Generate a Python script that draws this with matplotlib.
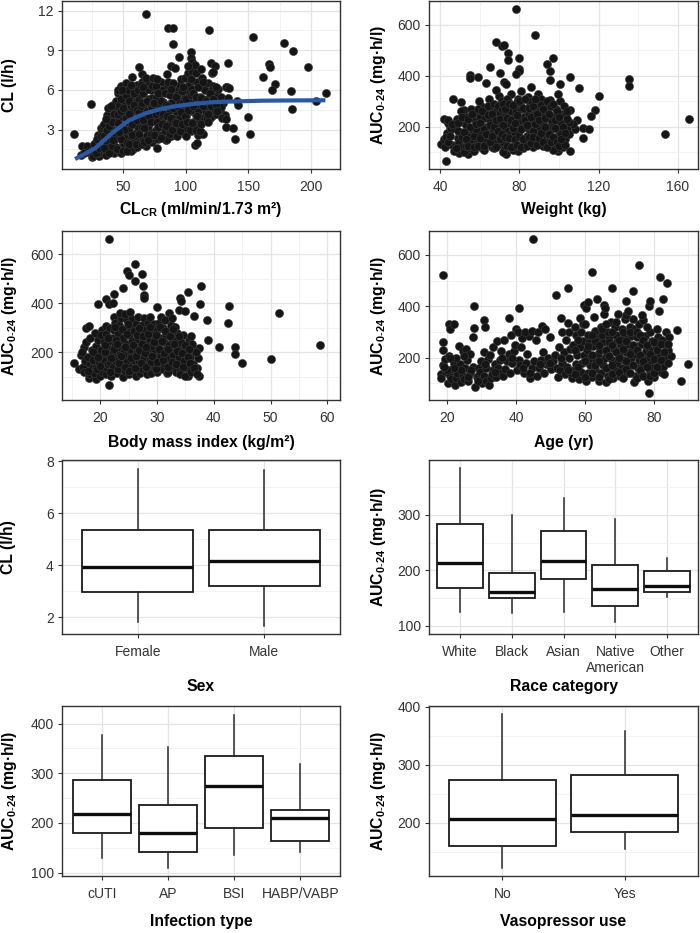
import matplotlib
matplotlib.use("Agg")
import matplotlib.pyplot as plt
import matplotlib.ticker as ticker
import numpy as np

plt.rcParams.update({
    "font.family": ["Liberation Sans", "DejaVu Sans"],
    "mathtext.fontset": "custom",
    "mathtext.rm": "Liberation Sans",
    "mathtext.bf": "Liberation Sans:bold",
    "mathtext.default": "regular",
    "font.size": 10,
    "axes.edgecolor": "#333333",
    "axes.linewidth": 1.0,
    "xtick.color": "#333333",
    "ytick.color": "#333333",
    "xtick.labelcolor": "#333333",
    "ytick.labelcolor": "#333333",
    "xtick.labelsize": 10,
    "ytick.labelsize": 10,
    "xtick.major.size": 3,
    "ytick.major.size": 3,
    "xtick.major.width": 0.8,
    "ytick.major.width": 0.8,
    "xtick.minor.size": 0,
    "ytick.minor.size": 0,
    "xtick.major.pad": 5,
    "ytick.major.pad": 3,
})

# ──────────────────────────────────────────────────────────────
# Data
# ──────────────────────────────────────────────────────────────

# CL vs CLcr, points (x = CLcr, y = CL)
cl_pts = [
    (10.8, 2.65), (24.7, 4.91), (16, 1.05), (17, 1.8), (21, 1.75), (22, 1.3), (25, 0.95), (19, 1.2),
    (26, 1.0), (27, 1.4), (28, 2.1), (29, 1.7), (30, 2.6), (31, 1.0), (32, 3.1), (33, 2.2), (34, 1.5),
    (30, 1.25), (33, 2.8), (27, 1.9), (29, 2.3), (34, 3.3),
    (35, 3.4), (36, 1.1), (37, 2.0), (38, 2.6), (39, 3.9), (40, 1.3), (41, 4.4), (42, 3.0), (43, 2.2),
    (44, 1.7), (36, 2.9), (38, 1.6), (40, 3.5), (42, 4.9), (44, 3.8), (37, 4.1), (43, 1.2), (39, 2.3),
    (41, 2.7), (44, 5.2),
    (45, 4.6), (46, 2.5), (47, 1.4), (48, 3.3), (49, 5.4), (50, 2.0), (51, 4.1), (52, 1.6), (53, 3.6),
    (54, 5.0), (45, 3.0), (47, 3.9), (49, 2.7), (51, 1.9), (53, 4.5), (46, 5.8), (48, 1.2), (50, 3.1),
    (52, 2.4), (54, 4.0), (50, 5.6), (48, 6.3), (52, 6.5), (46, 6.0), (54, 2.9), (47, 4.9), (51, 5.2),
    (55, 6.1), (56, 2.3), (57, 4.3), (58, 1.5), (59, 3.4), (60, 5.1), (61, 2.8), (62, 4.7), (63, 1.9),
    (64, 3.9), (55, 3.0), (57, 5.6), (59, 2.0), (61, 6.4), (63, 5.3), (56, 4.8), (58, 3.8), (60, 2.5),
    (62, 3.2), (64, 2.2), (60, 6.0), (58, 4.5), (64, 5.7), (57, 7.0), (56, 1.4),
    (65, 6.6), (66, 2.4), (67, 4.4), (68, 1.8), (69, 3.6), (70, 5.3), (71, 2.9), (72, 4.8), (73, 2.1),
    (74, 3.9), (65, 3.2), (67, 5.9), (69, 2.6), (71, 6.4), (73, 5.4), (66, 4.9), (68, 4.1), (70, 3.3),
    (72, 6.0), (74, 2.4), (68, 6.6), (65, 7.2), (68, 6.9), (74, 6.9),
    (75, 6.2), (76, 3.0), (77, 4.6), (78, 2.3), (79, 5.6), (80, 3.7), (81, 2.6), (82, 5.1), (83, 4.2),
    (84, 6.4), (75, 4.0), (77.4, 1.64), (79, 3.3), (81, 6.0), (83, 2.9), (76, 5.4), (78, 4.9), (80, 6.6),
    (82, 3.5), (84, 2.2),
    (85, 5.8), (86, 3.1), (87, 4.5), (88, 2.5), (89, 6.3), (90, 3.8), (91, 5.2), (92, 2.8), (93, 4.1),
    (94, 6.0), (85, 2.3), (87, 3.5), (89, 4.8), (91, 2.6), (93, 5.6), (86, 6.6), (88, 5.0), (90, 3.0),
    (92, 4.4), (94, 3.3), (85, 7.2),
    (95, 6.4), (96, 3.3), (97, 4.7), (98, 2.9), (99, 5.5), (100, 4.0), (101, 6.0), (102, 3.5), (103, 5.1),
    (104, 4.4), (95, 3.9), (97, 5.9), (99, 2.7), (101, 4.9), (103, 6.6), (96, 5.2), (98, 4.3), (100, 3.1),
    (102, 6.3), (104, 2.9), (96, 6.8), (99, 6.9), (102, 7.3),
    (105, 6.1), (106, 3.6), (107, 5.0), (108, 4.1), (109, 6.6), (110, 3.3), (111, 5.5), (112, 4.6),
    (113, 6.2), (114, 3.9), (105, 4.5), (107, 3.2), (109, 4.9), (111, 3.7), (113, 5.0), (107.5, 1.84),
    (109, 1.97), (112, 2.85), (110, 2.6), (114, 2.7), (105, 7.4), (108, 7.3), (113, 6.9),
    (115, 6.0), (116, 4.3), (117, 5.3), (118, 6.5), (119, 4.6), (120, 5.7), (121, 4.0), (122, 6.3),
    (123, 5.0), (124, 4.2), (125, 5.6), (117, 4.8), (119, 3.9), (121, 6.0), (123, 4.5), (121, 7.3),
    (126, 6.1), (127, 4.4), (128, 5.5), (130, 5.0), (131, 4.1), (133, 6.2), (134, 5.4), (129, 3.9), (128, 4.7),
    # denser core
    (28, 1.2), (31, 1.6), (32, 2.5), (35, 1.6), (35, 2.5), (37, 3.0), (39, 1.2), (39, 3.3), (41, 1.8),
    (41, 3.6), (43, 2.7), (43, 4.2), (36, 3.8), (38, 4.6), (42, 2.2), (40, 4.8),
    (45, 1.5), (46, 3.5), (46, 4.2), (48, 2.3), (48, 4.4), (48, 5.3), (50, 1.4), (50, 4.6), (51, 3.0),
    (52, 3.9), (52, 5.6), (53, 2.0), (54, 6.0), (49, 6.0), (47, 2.8), (53, 1.4),
    (55, 1.9), (55, 4.2), (55, 5.2), (57, 2.6), (57, 3.4), (59, 4.9), (59, 5.8), (61, 1.7), (61, 3.7),
    (61, 4.5), (63, 2.7), (63, 4.3), (62, 6.0), (64, 4.8), (64, 6.4), (60, 1.9), (56, 6.4),
    (65, 1.9), (65, 5.0), (66, 3.7), (66, 5.8), (67, 2.1), (67, 3.1), (69, 4.4), (69, 5.2), (70, 6.1),
    (71, 4.0), (72, 2.6), (72, 3.6), (73, 4.6), (73, 6.3), (74, 5.0), (70, 2.2), (66, 6.2),
    (75, 2.6), (75, 5.0), (76, 4.2), (76, 6.3), (77, 3.6), (78, 3.2), (78, 5.8), (79, 4.3), (80, 2.4),
    (80, 5.2), (81, 3.4), (82, 4.2), (83, 5.8), (84, 3.3), (84, 4.9), (77, 6.8),
    (85, 4.0), (86, 4.8), (87, 2.7), (87, 5.6), (88, 3.9), (89, 3.0), (90, 4.6), (90, 6.5), (91, 3.6),
    (92, 5.5), (92, 3.5), (93, 2.5), (94, 4.8), (88, 6.1),
    (95, 2.9), (95, 5.0), (96, 4.3), (97, 3.4), (98, 5.0), (98, 6.2), (99, 4.0), (100, 5.3), (100, 2.5),
    (101, 3.6), (102, 4.5), (103, 3.0), (104, 5.6), (104, 6.8),
    (105, 3.5), (106, 4.8), (106, 5.8), (108, 3.0), (108, 5.5), (110, 4.3), (110, 6.2), (111, 2.9),
    (112, 3.4), (112, 5.4), (114, 4.8), (114, 6.6), (109, 4.0),
    (116, 5.2), (117, 3.8), (118, 4.2), (119, 5.8), (120, 4.8), (122, 5.3), (124, 6.2), (124, 4.9),
    (125, 4.4), (118, 3.6),
    # outliers
    (68.1, 11.74), (85.7, 10.71), (89.7, 10.71), (90, 9.47), (118.5, 10.56), (154, 10.03), (178.7, 9.52),
    (185.3, 8.97), (197.3, 7.76), (166, 7.96), (167.5, 7.71), (161.6, 6.98), (171, 6.45), (169, 6.02),
    (184.3, 5.95), (184.6, 4.56), (212.2, 5.75), (204, 5.19), (62.5, 7.76), (104.3, 8.89), (120, 8.06),
    (123.3, 7.81), (122, 7.33), (134, 8.01), (132, 6.2), (134.7, 6.17), (140.8, 5.17), (142, 4.9),
    (132, 3.8), (131.8, 3.2), (137.6, 3.1), (139.2, 2.27), (149.6, 3.96), (150.9, 2.65), (94.8, 8.47),
    (104, 8.44), (104.8, 8.14), (107.5, 7.89), (101.7, 7.81), (88.4, 7.81), (91.6, 7.63), (112, 7.58),
]

# fitted curve (blue line)
fit_clcr = [11.6, 17.0, 27.6, 40.9, 54.3, 67.6, 80.9, 94.2, 107.5, 120.9, 134.2, 160.8, 187.5, 211.4]
fit_cl = [0.78, 1.04, 1.59, 2.72, 3.68, 4.23, 4.59, 4.81, 4.96, 5.07, 5.12, 5.19, 5.21, 5.22]

# AUC vs weight
wt_pts = [
    (40.3, 131), (43.2, 64), (41.9, 232), (46.3, 308), (50.8, 297), (52.2, 265), (54.2, 94), (49.7, 96),
    (73.2, 94), (79.3, 103), (78.1, 661), (87.8, 560), (68.1, 534), (71.2, 518), (72.2, 522), (74.1, 490),
    (74.2, 460), (80, 470), (94, 447), (96.8, 470), (95.3, 418), (80, 427), (80, 418), (78.3, 405),
    (70, 412), (65, 436), (54.9, 401), (54.9, 392), (59.3, 395), (63, 373), (72.2, 375), (73.4, 369),
    (95.3, 382), (100.5, 366), (105.3, 395), (110.2, 352), (135.3, 386), (135.3, 360), (120.3, 319),
    (118.3, 265), (116.3, 242), (112.2, 194), (115, 191), (112.2, 157), (105.3, 267), (105.3, 103),
    (99.3, 103), (99.3, 118), (153.6, 170), (165.4, 230), (109.3, 226), (108, 190), (107, 210),
    (42, 150), (43.5, 175), (45, 200), (44, 215), (46, 130), (42.5, 120), (45.5, 190), (44, 225), (43, 160),
    (47, 105), (48, 130), (49, 155), (50, 180), (47.5, 205), (48.5, 230), (50.5, 260), (49.5, 140),
    (51, 120), (47, 195),
    (52, 100), (53, 125), (54, 145), (55, 170), (56, 190), (52.5, 215), (53.5, 240), (55.5, 270),
    (54.5, 160), (56, 135), (53, 205), (55, 115),
    (57, 105), (58, 130), (59, 150), (60, 175), (61, 200), (57.5, 225), (58.5, 250), (60.5, 280),
    (59.5, 300), (61, 115), (57, 165), (58, 190), (60, 240), (61, 140),
    (62, 110), (63, 135), (64, 160), (65, 185), (66, 210), (62.5, 235), (63.5, 260), (65.5, 290),
    (64.5, 310), (66, 120), (62, 145), (63, 200), (65, 225), (66, 270),
    (67, 115), (68, 140), (69, 165), (70, 190), (71, 215), (67.5, 240), (68.5, 265), (70.5, 290),
    (69.5, 320), (68, 345), (71, 130), (67, 180), (69, 205), (70, 255), (71, 300),
    (72, 100), (73, 125), (74, 150), (75, 175), (76, 200), (72.5, 225), (73.5, 250), (75.5, 275),
    (74.5, 300), (76, 330), (72, 140), (73, 190), (75, 215), (76, 260), (74, 310),
    (77, 110), (78, 135), (79, 160), (80, 185), (81, 210), (77.5, 235), (78.5, 260), (80.5, 285),
    (79.5, 310), (81, 340), (77, 120), (78, 175), (80, 225), (81, 270), (79, 295),
    (82, 115), (83, 140), (84, 165), (85, 190), (86, 215), (82.5, 240), (83.5, 265), (85.5, 290),
    (84.5, 315), (86, 355), (82, 130), (83, 200), (85, 250), (86, 300),
    (87, 120), (88, 145), (89, 170), (90, 195), (91, 220), (87.5, 245), (88.5, 270), (90.5, 295),
    (89.5, 330), (91, 135), (87, 185), (88, 235), (90, 260), (91, 310),
    (92, 125), (93, 150), (94, 175), (95, 200), (96, 225), (92.5, 250), (93.5, 280), (95.5, 305),
    (94, 140), (96, 190), (92, 215), (94, 265),
    (97, 110), (98, 135), (99, 160), (100, 185), (101, 215), (97.5, 240), (98.5, 270), (100.5, 300),
    (99.5, 330), (97, 200), (101, 250),
    (102, 120), (103, 150), (104, 190), (105, 220), (103.5, 250), (102.5, 280), (104, 230), (105, 170),
    # denser core
    (44, 140), (45, 165), (46, 210), (48, 115), (49, 185), (49, 215), (51, 160), (51, 240), (52, 180),
    (53, 150), (54, 125), (54, 230), (55, 200), (56, 250), (57, 120), (58, 210), (59, 270), (59, 125),
    (60, 155), (60, 215), (61, 260), (62, 190), (62, 125), (63, 170), (64, 245), (64, 280), (65, 140),
    (65, 205), (66, 165), (66, 250), (67, 200), (67, 290), (68, 120), (68, 225), (69, 185), (69, 280),
    (70, 150), (70, 230), (71, 170), (71, 270), (72, 205), (72, 290), (73, 160), (73, 270), (74, 125),
    (74, 235), (75, 155), (75, 290), (76, 120), (76, 225), (77, 195), (77, 285), (78, 150), (78, 215),
    (79, 130), (79, 245), (80, 165), (80, 300), (81, 120), (81, 190), (82, 150), (82, 275), (83, 225),
    (83, 310), (84, 125), (84, 205), (85, 160), (85, 275), (86, 135), (86, 240), (87, 160), (87, 280),
    (88, 210), (88, 310), (89, 130), (89, 250), (90, 155), (90, 225), (91, 175), (91, 285), (92, 140),
    (92, 270), (93, 200), (93, 235), (94, 120), (94, 300), (95, 170), (95, 250), (96, 140), (96, 280),
    (97, 160), (97, 290), (98, 195), (98, 225), (99, 140), (99, 260), (100, 125), (100, 240), (101, 170),
    (102, 200), (103, 130), (104, 260), (101, 150), (103, 175),
]

# AUC vs body mass index
bmi_pts = [
    (21.6, 663), (26.2, 561), (24.75, 534), (25.1, 516), (27.4, 521), (26.2, 491), (27.6, 471), (24, 461),
    (27.7, 433), (27.7, 421), (19.6, 397), (21, 417), (21.6, 397), (22.3, 403), (22.5, 437), (22.5, 346),
    (37.8, 471), (35.4, 447), (34, 421), (34.2, 410), (37.6, 397), (42.6, 387), (42.5, 321), (51.4, 362),
    (38.8, 332), (39, 250), (41, 223), (43.7, 220), (43.7, 192), (44.9, 158), (50, 171), (58.7, 230),
    (36.6, 348), (37.4, 219), (37.4, 103), (35.5, 103), (21.5, 65), (18.1, 96), (19.2, 90), (15.4, 158),
    (16.3, 131), (16.6, 189), (17.2, 223), (17.6, 298), (18.1, 308), (20.4, 291), (21, 308), (30, 384),
    (32.1, 362), (33.9, 373), (34.9, 369),
    (17, 140), (17.3, 165), (16.8, 200), (17.5, 240), (17.2, 120),
    (18, 110), (18.3, 150), (17.8, 180), (18.5, 210), (18.2, 260), (18.6, 135),
    (19, 115), (19.3, 140), (18.8, 170), (19.5, 195), (19.2, 225), (19.6, 250), (19.1, 280),
    (20, 105), (20.3, 130), (19.8, 160), (20.5, 185), (20.2, 210), (20.6, 240), (20.1, 270), (20.4, 120),
    (21, 110), (21.3, 135), (20.8, 165), (21.5, 190), (21.2, 220), (21.6, 245), (21.1, 275), (21.4, 150),
    (21.7, 300),
    (22, 105), (22.3, 125), (21.8, 155), (22.5, 180), (22.2, 205), (22.6, 230), (22.1, 260), (22.4, 290),
    (22.7, 320), (22.2, 140),
    (23, 115), (23.3, 140), (22.8, 165), (23.5, 195), (23.2, 220), (23.6, 250), (23.1, 280), (23.4, 310),
    (23.7, 340), (23.2, 130), (23.5, 360),
    (24, 100), (24.3, 125), (23.8, 150), (24.5, 175), (24.2, 205), (24.6, 235), (24.1, 260), (24.4, 290),
    (24.7, 330), (24.3, 355), (24.8, 185),
    (25, 110), (25.3, 135), (24.8, 160), (25.5, 190), (25.2, 215), (25.6, 245), (25.1, 270), (25.4, 300),
    (25.7, 335), (25.3, 365), (25.6, 145),
    (26, 120), (26.3, 145), (25.8, 170), (26.5, 200), (26.2, 225), (26.6, 255), (26.1, 285), (26.4, 315),
    (26.7, 345), (26.3, 105),
    (27, 115), (27.3, 140), (26.8, 165), (27.5, 195), (27.2, 220), (27.6, 250), (27.1, 280), (27.4, 310),
    (27.7, 340), (27.3, 130),
    (28, 125), (28.3, 150), (27.8, 180), (28.5, 205), (28.2, 235), (28.6, 260), (28.1, 290), (28.4, 320),
    (28.7, 345), (28.3, 110),
    (29, 115), (29.3, 145), (28.8, 170), (29.5, 195), (29.2, 225), (29.6, 255), (29.1, 285), (29.4, 315),
    (29.7, 135),
    (30, 120), (30.3, 150), (29.8, 175), (30.5, 200), (30.2, 230), (30.6, 260), (30.1, 290), (30.4, 320),
    (30.7, 345), (30.3, 135),
    (31, 130), (31.3, 155), (30.8, 185), (31.5, 210), (31.2, 240), (31.6, 270), (31.1, 300), (31.4, 330),
    (31.7, 115),
    (32, 120), (32.3, 145), (31.8, 175), (32.5, 200), (32.2, 230), (32.6, 255), (32.1, 285), (32.4, 310),
    (32.7, 340),
    (33, 135), (33.3, 165), (32.8, 190), (33.5, 220), (33.2, 250), (33.6, 280), (33.1, 305), (33.4, 120),
    (34, 125), (34.3, 155), (33.8, 180), (34.5, 210), (34.2, 240), (34.6, 270), (34.1, 110),
    (35, 105), (35.3, 135), (34.8, 165), (35.5, 195), (35.2, 225), (35.6, 250),
    (36, 120), (36.3, 150), (35.8, 180), (36.5, 210), (36.2, 235),
    (37, 135), (37.3, 175), (36.8, 200),
    # denser core
    (17.8, 125), (18.8, 200), (19.4, 130), (19.6, 180), (20, 145), (20.8, 200), (20.9, 230), (21.4, 260),
    (21.8, 120), (22, 175), (22.4, 215), (22.6, 305), (22.8, 250), (23.4, 155), (23.6, 185), (23, 235),
    (23.8, 295), (24.3, 140), (24.4, 220), (24.8, 275), (24.9, 315), (25.1, 125), (25.4, 175), (25.8, 230),
    (25.9, 285), (26.1, 135), (26.3, 185), (26.5, 270), (26.8, 300), (26.9, 210), (27.2, 155), (27.4, 235),
    (27.6, 265), (27.9, 195), (28, 140), (28.1, 220), (28.5, 275), (28.8, 305), (28.9, 160), (29.2, 185),
    (29.4, 240), (29.8, 270), (29.9, 130), (30.1, 160), (30.3, 215), (30.6, 305), (30.9, 245), (31, 170),
    (31.2, 195), (31.4, 285), (31.9, 140), (32, 215), (32.3, 265), (32.6, 160), (32.9, 295), (33, 235),
    (33.3, 150), (33.6, 205), (33.9, 265), (34.4, 195), (34.6, 140), (34.9, 230), (35.4, 180), (35.8, 155),
    (36, 265), (36.5, 135), (37, 110), (35.7, 215),
]

# AUC vs age
age_pts = [
    (18.3, 135), (18.8, 170), (19.3, 195), (19.8, 145), (18.8, 230), (18.8, 262), (18.8, 521), (18.2, 120),
    (20.2, 100), (20.8, 130), (21.4, 155), (21.9, 180), (20.5, 205), (20.6, 330), (20.8, 311), (21.3, 115),
    (22.2, 95), (22.7, 120), (23.3, 150), (23.8, 175), (22.5, 200), (23.4, 245), (22.0, 330), (23.0, 140),
    (24.2, 105), (24.7, 130), (25.3, 160), (25.8, 190), (24.5, 225), (25.4, 235), (25.0, 115),
    (26.2, 110), (26.8, 140), (27.4, 165), (27.0, 150), (26.6, 215), (27.5, 279), (27.8, 314), (27.8, 400),
    (28.1, 84), (28.6, 125), (29.2, 160), (29.8, 185), (28.9, 130), (29.5, 145),
    (30.2, 100), (30.8, 130), (31.4, 160), (31.9, 195), (30.6, 220), (30.7, 347), (30.9, 321), (31.2, 110),
    (32.2, 95), (32.8, 120), (33.3, 150), (33.8, 175), (32.5, 210), (33.4, 240), (33.0, 135),
    (34.2, 125), (34.8, 160), (35.3, 190), (35.8, 225), (34.6, 265), (35.5, 140),
    (36.2, 130), (36.8, 155), (37.3, 185), (37.9, 215), (36.6, 270), (37.9, 356),
    (38.2, 140), (38.8, 180), (39.3, 225), (39.7, 250), (38.5, 290), (39.9, 311), (40.9, 393),
    (40.2, 150), (40.8, 190), (41.4, 240), (41.9, 275), (40.5, 300), (41.2, 170),
    (42.2, 140), (42.8, 180), (43.3, 215), (43.8, 285), (42.6, 300),
    (44.2, 120), (44.8, 160), (45.3, 185), (45.8, 270), (44.6, 305), (45.0, 661),
    (46.2, 130), (46.8, 160), (47.3, 190), (47.8, 220), (46.5, 300), (47.5, 325),
    (48.2, 140), (48.8, 175), (49.3, 200), (49.8, 280), (48.5, 310), (49.5, 170),
    (50.2, 155), (50.8, 185), (51.3, 210), (51.5, 444), (51.8, 160),
    (52.2, 125), (52.8, 150), (53.3, 180), (53.8, 220), (52.5, 240), (53.4, 300), (53.0, 355),
    (54.2, 135), (54.8, 165), (55.3, 200), (55.8, 235), (54.5, 270), (55.4, 300), (55.0, 335), (55.0, 470),
    (56.2, 120), (56.8, 150), (57.3, 175), (57.8, 210), (56.5, 250), (57.4, 290), (57.0, 320),
    (58.2, 115), (58.8, 145), (59.3, 180), (59.8, 210), (58.5, 240), (59.4, 265), (59.0, 300), (58.6, 355),
    (59.6, 330), (59.8, 405),
    (60.2, 110), (60.8, 140), (61.4, 170), (61.9, 200), (60.5, 230), (61.3, 260), (60.9, 290), (60.4, 395),
    (60.9, 417),
    (62.2, 125), (62.8, 155), (63.3, 185), (63.8, 215), (62.5, 245), (63.4, 275), (63.0, 305), (63.6, 430),
    (62.0, 532), (62.7, 360),
    (64.2, 110), (64.8, 140), (65.3, 170), (65.8, 200), (64.5, 230), (65.4, 260), (65.0, 290), (64.6, 320),
    (65.6, 370), (65.5, 405), (65.9, 395),
    (66.2, 105), (66.8, 130), (67.3, 160), (67.8, 190), (66.5, 215), (67.4, 245), (67.0, 275), (66.6, 300),
    (67.6, 340), (67.9, 150),
    (68.2, 120), (68.8, 150), (69.3, 180), (69.8, 205), (68.5, 235), (69.4, 265), (69.0, 290), (68.6, 320),
    (67.8, 470), (69.6, 370),
    (70.2, 130), (70.8, 160), (71.4, 190), (71.9, 220), (70.5, 250), (71.3, 280), (70.9, 310), (71.6, 350),
    (70.3, 225), (71.9, 365),
    (72.2, 140), (72.8, 170), (73.3, 200), (73.8, 230), (72.5, 255), (73.4, 285), (73.0, 320), (72.6, 380),
    (71.9, 420),
    (74.2, 105), (74.8, 130), (75.3, 160), (75.8, 190), (74.5, 215), (75.4, 245), (75.0, 280), (74.6, 310),
    (73.9, 460), (75.6, 330),
    (76.2, 140), (76.8, 170), (77.3, 200), (77.8, 225), (76.5, 255), (77.4, 285), (77.0, 345), (75.8, 561),
    (76.6, 365), (77.9, 190),
    (78.7, 62), (78.2, 110), (78.8, 145), (79.3, 175), (79.8, 205), (78.5, 235), (79.4, 265), (79.0, 300),
    (78.7, 401), (79.0, 420), (79.6, 160),
    (80.2, 125), (80.8, 155), (81.4, 185), (81.9, 215), (80.5, 245), (81.3, 280), (80.9, 310), (81.6, 380),
    (81.9, 513),
    (82.2, 145), (82.8, 175), (83.3, 205), (83.8, 240), (82.5, 270), (83.4, 300), (82.8, 430), (83.8, 490),
    (82.6, 165),
    (84.9, 208), (84.5, 280), (84.2, 230), (86.7, 307), (88.0, 109), (89.8, 174),
    # denser areas
    (56, 140), (57, 230), (58, 165), (58, 270), (60, 125), (60, 185), (61, 245), (62, 140), (62, 210),
    (63, 170), (63, 265), (64, 125), (64, 185), (64, 250), (65, 310), (66, 160), (66, 230), (66, 330),
    (67, 115), (67, 205), (67, 260), (68, 135), (68, 170), (68, 250), (68, 300), (69, 220), (69, 340),
    (70, 145), (70, 200), (70, 270), (71, 120), (71, 235), (71, 300), (72, 155), (72, 185), (72, 265),
    (73, 140), (73, 215), (73, 300), (74, 170), (74, 250), (74, 350), (75, 120), (75, 230), (75, 300),
    (76, 150), (76, 210), (76, 290), (77, 130), (77, 185), (77, 270), (78, 165), (78, 250), (78, 320),
    (79, 130), (79, 215), (80, 140), (80, 195), (80, 260), (81, 165), (81, 230), (82, 190), (82, 255),
    (83, 135), (83, 220), (84, 180), (84, 255), (60, 330), (62, 290), (57, 135), (55, 150), (53, 200),
    (50, 180), (47, 175), (44, 140), (42, 160), (39, 200), (36, 200), (34, 145), (31, 175), (29, 110),
    (26, 125), (24, 150), (22, 160), (20, 150), (19, 165), (21, 200), (25, 205),
]

# Box plot summaries: lower whisker, Q1, median, Q3, upper whisker
sex_cats = ["Female", "Male"]
sex_lo = [1.80, 1.65]
sex_q1 = [2.95, 3.18]
sex_med = [3.92, 4.15]
sex_q3 = [5.35, 5.35]
sex_hi = [7.70, 7.68]

race_cats = ["White", "Black", "Asian", "Native\nAmerican", "Other"]
race_lo = [126, 124, 126, 108, 152]
race_q1 = [168, 151, 184, 136, 161]
race_med = [213, 161, 217, 167, 172]
race_q3 = [284, 195, 271, 210, 199]
race_hi = [384, 300, 331, 293, 222]

inf_cats = ["cUTI", "AP", "BSI", "HABP/VABP"]
inf_lo = [129, 110, 135, 142]
inf_q1 = [180, 142, 189, 163]
inf_med = [217, 179, 275, 210]
inf_q3 = [287, 235, 335, 225]
inf_hi = [376, 352, 417, 319]

vaso_cats = ["No", "Yes"]
vaso_lo = [121, 154]
vaso_q1 = [160, 184]
vaso_med = [206, 213]
vaso_q3 = [274, 282]
vaso_hi = [387, 358]

AUC_LABEL = r"AUC$_{0\text{-}24}$ (mg·h/l)"

# ──────────────────────────────────────────────────────────────
# Helpers
# ──────────────────────────────────────────────────────────────

def base_style(ax, xlabel, ylabel, xlab_off, ylab_x):
    ax.set_axisbelow(True)
    ax.grid(True, which="major", color="#E4E4E4", linewidth=0.9)
    ax.grid(True, which="minor", color="#EFEFEF", linewidth=0.5)
    ax.set_xlabel(xlabel, fontsize=11.3, fontweight="bold", va="center")
    ax.set_ylabel(ylabel, fontsize=11.3, fontweight="bold", va="center")
    ax.xaxis.set_label_coords(0.5, xlab_off)
    ax.yaxis.set_label_coords(ylab_x, 0.5)


def scatter_panel(ax, pts, xlim, ylim, xmaj, xmin, ymaj, ymin):
    pts = np.array(pts)
    ax.scatter(pts[:, 0], pts[:, 1], s=34, facecolor="#151515", edgecolor="#3c3c3c",
               linewidth=0.4, zorder=3)
    ax.set_xlim(*xlim)
    ax.set_ylim(*ylim)
    ax.xaxis.set_major_locator(ticker.FixedLocator(xmaj))
    ax.xaxis.set_minor_locator(ticker.FixedLocator(xmin))
    ax.yaxis.set_major_locator(ticker.FixedLocator(ymaj))
    ax.yaxis.set_minor_locator(ticker.FixedLocator(ymin))


def box_panel(ax, cats, lo, q1, med, q3, hi, ylim, ymaj, ymin):
    stats = [dict(whislo=a, q1=b, med=c, q3=d, whishi=e)
             for a, b, c, d, e in zip(lo, q1, med, q3, hi)]
    pos = np.arange(1, len(cats) + 1)
    ax.bxp(stats, positions=pos, widths=0.88, showfliers=False, showcaps=False,
           patch_artist=True,
           boxprops=dict(facecolor="white", edgecolor="#1a1a1a", linewidth=1.3),
           medianprops=dict(color="#0d0d0d", linewidth=2.4, solid_capstyle="butt"),
           whiskerprops=dict(color="#2a2a2a", linewidth=1.1))
    ax.set_xticks(pos)
    ax.set_xticklabels(cats)
    ax.set_xlim(0.4, len(cats) + 0.6)
    ax.set_ylim(*ylim)
    ax.yaxis.set_major_locator(ticker.FixedLocator(ymaj))
    ax.yaxis.set_minor_locator(ticker.FixedLocator(ymin))


# ──────────────────────────────────────────────────────────────
# Figure
# ──────────────────────────────────────────────────────────────

fig = plt.figure(figsize=(7, 9.33), dpi=100)

cols = [(0.0886, 0.397), (0.613, 0.384)]
rows = [(0.8185, 0.1805), (0.5713, 0.181), (0.3205, 0.1865), (0.0611, 0.182)]

def make_ax(r, c):
    (b, h), (l, w) = rows[r], cols[c]
    return fig.add_axes([l, b, w, h])

# Row 1
ax = make_ax(0, 0)
scatter_panel(ax, cl_pts, (1.2, 223), (0, 12.73), [50, 100, 150, 200], [25, 75, 125, 175, 225],
              [3, 6, 9, 12], [1.5, 4.5, 7.5, 10.5])
ax.plot(fit_clcr, fit_cl, color="#2B58A5", linewidth=3.0, solid_capstyle="butt", zorder=4)
base_style(ax, r"CL$_{\mathbf{CR}}$ (ml/min/1.73 m²)", "CL (l/h)", -40 / 169, -0.189)

ax = make_ax(0, 1)
scatter_panel(ax, wt_pts, (34.5, 170), (33, 693), [40, 80, 120, 160], [60, 100, 140],
              [200, 400, 600], [100, 300, 500])
base_style(ax, "Weight (kg)", AUC_LABEL, -40 / 169, -0.19)

# Row 2
ax = make_ax(1, 0)
scatter_panel(ax, bmi_pts, (13.3, 62.2), (5, 695), [20, 30, 40, 50, 60], [15, 25, 35, 45, 55],
              [200, 400, 600], [100, 300, 500])
base_style(ax, "Body mass index (kg/m²)", AUC_LABEL, -43 / 169, -0.189)

ax = make_ax(1, 1)
scatter_panel(ax, age_pts, (14.8, 92.8), (35, 693), [20, 40, 60, 80], [30, 50, 70, 90],
              [200, 400, 600], [100, 300, 500])
base_style(ax, "Age (yr)", AUC_LABEL, -43 / 169, -0.19)

# Row 3
ax = make_ax(2, 0)
box_panel(ax, sex_cats, sex_lo, sex_q1, sex_med, sex_q3, sex_hi, (1.35, 8.05),
          [2, 4, 6, 8], [3, 5, 7])
base_style(ax, "Sex", "CL (l/h)", -53 / 174, -0.193)

ax = make_ax(2, 1)
box_panel(ax, race_cats, race_lo, race_q1, race_med, race_q3, race_hi, (85.6, 399),
          [100, 200, 300], [150, 250, 350])
base_style(ax, "Race category", AUC_LABEL, -53 / 174, -0.19)

# Row 4
ax = make_ax(3, 0)
box_panel(ax, inf_cats, inf_lo, inf_q1, inf_med, inf_q3, inf_hi, (93, 435),
          [100, 200, 300, 400], [150, 250, 350])
base_style(ax, "Infection type", AUC_LABEL, -46 / 170, -0.189)

ax = make_ax(3, 1)
box_panel(ax, vaso_cats, vaso_lo, vaso_q1, vaso_med, vaso_q3, vaso_hi, (108, 401),
          [200, 300, 400], [150, 250, 350])
base_style(ax, "Vasopressor use", AUC_LABEL, -46 / 170, -0.19)

plt.savefig("out.png", dpi=100)
plt.close()
print("Saved: out.png")
